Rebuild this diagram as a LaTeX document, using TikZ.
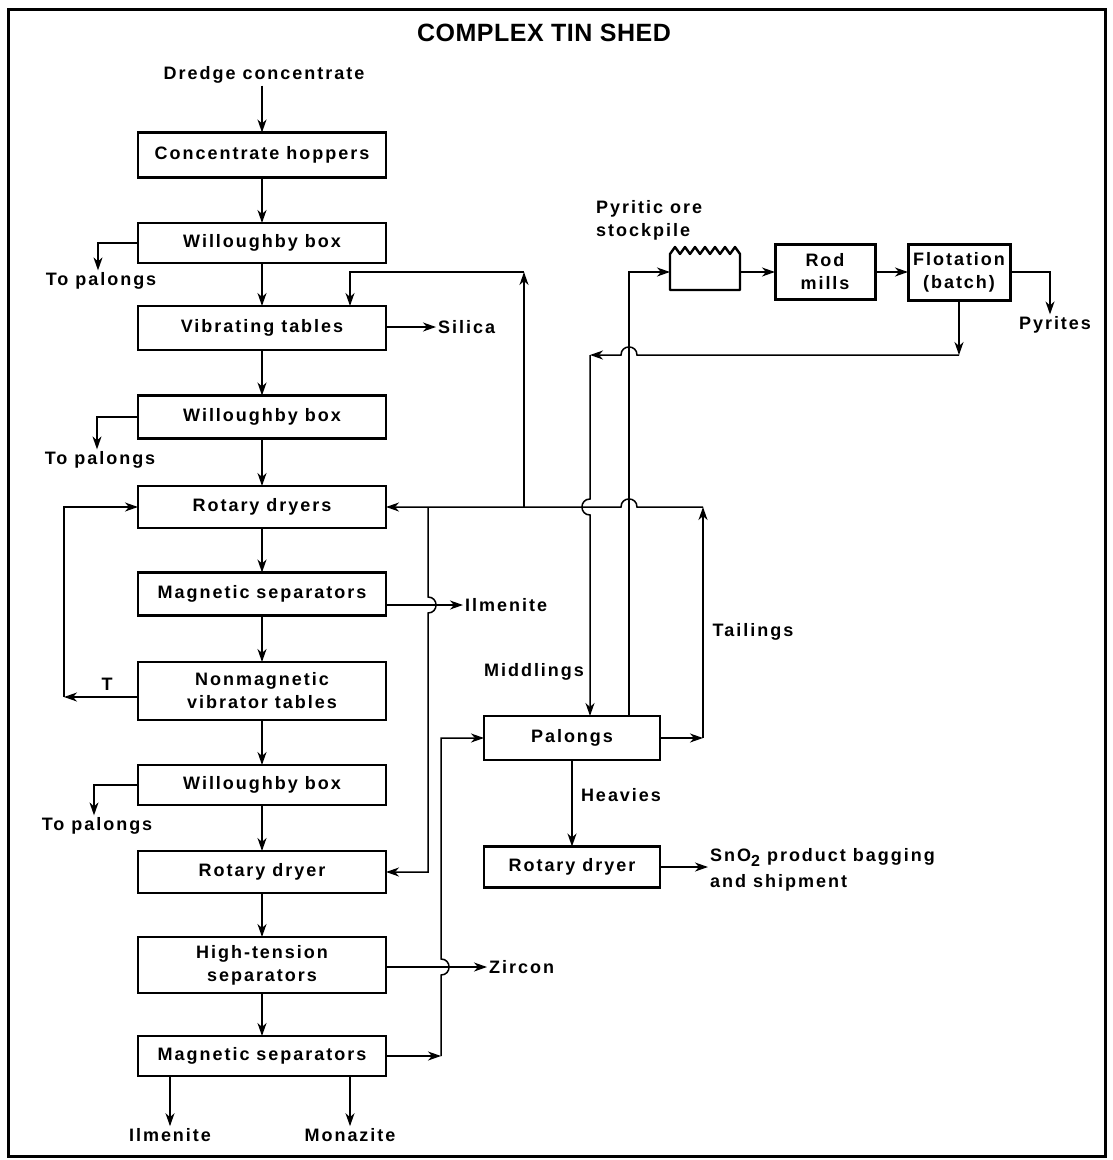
\documentclass[tikz,border=0pt]{standalone}
\usepackage{fontspec}
\setmainfont{Liberation Sans}[LetterSpace=11]
\usetikzlibrary{arrows.meta}

\begin{document}
\begin{tikzpicture}[x=1pt,y=-1pt,
  font=\fontsize{18}{23}\selectfont\bfseries,
  unit/.style={draw,line width=2.6pt,minimum width=248pt,minimum height=42pt,inner sep=0pt,outer sep=0pt,align=center},
  flow/.style={line width=1.5pt,-{Stealth[length=13pt,width=9pt,inset=4pt]}},
  lbl/.style={inner sep=2pt,align=left}]
\useasboundingbox (0,0) rectangle (1112,1160);
\draw[line width=3pt] (8,9) rectangle (1105,1156);
\node (title) at (544,33) {\fontsize{25}{28}\selectfont\addfontfeature{LetterSpace=2}COMPLEX TIN SHED};

\node[lbl] (dredge) at (264,75) {Dredge concentrate};
\node[unit,minimum height=45pt] (conc) at (262,155) {Concentrate hoppers};
\node[unit,minimum height=40pt] (wb1) at (262,243) {Willoughby box};
\node[unit,minimum height=44pt] (vib) at (262,328) {Vibrating tables};
\node[unit,minimum height=43pt] (wb2) at (262,417) {Willoughby box};
\node[unit] (dry1) at (262,507) {Rotary dryers};
\node[unit,minimum height=43pt] (mag1) at (262,594) {Magnetic separators};
\node[unit,minimum height=58pt] (nonmag) at (262,691) {Nonmagnetic\\vibrator tables};
\node[unit,minimum height=40pt] (wb3) at (262,785) {Willoughby box};
\node[unit] (dry2) at (262,872) {Rotary dryer};
\node[unit,minimum height=56pt] (hts) at (262,965) {High-tension\\separators};
\node[unit,minimum height=40pt] (mag2) at (262,1056) {Magnetic separators};

\node[unit,minimum width=176pt,minimum height=44pt] (pal) at (572,738) {Palongs};
\node[unit,minimum width=176pt,minimum height=41pt] (dry3) at (572,867) {Rotary dryer};
\node[minimum width=70pt,minimum height=36pt,inner sep=0pt,outer sep=0pt] (pile) at (705,272) {};
\node[unit,line width=3pt,minimum width=100pt,minimum height=55pt] (rod) at (825,272) {Rod\\mills};
\node[unit,line width=3pt,minimum width=102pt,minimum height=56pt] (flot) at (959,272) {Flotation\\(batch)};
\draw[line width=2.4pt,line join=round] (pile.south west) -- (pile.north west)
  foreach \i in {1,...,7} { -- ++(5,-7) -- ++(5,7) } -- (pile.south east) -- cycle;

\node[lbl] (tp1) at (101,281) {To palongs};
\node[lbl] (tp2) at (100,460) {To palongs};
\node[lbl] (tp3) at (97,826) {To palongs};
\node[lbl,anchor=west] (sil) at (436,327) {Silica};
\node[lbl,anchor=west] (ilm1) at (463,605) {Ilmenite};
\node[lbl] (tl) at (107,684) {T};
\node[lbl,anchor=west] (zir) at (487,967) {Zircon};
\node[lbl] (ilm2) at (170,1135) {Ilmenite};
\node[lbl] (mona) at (350,1135) {Monazite};
\node[lbl] (middl) at (534,672) {Middlings};
\node[lbl] (tail) at (753,632) {Tailings};
\node[lbl] (heavy) at (621,795) {Heavies};
\node[lbl] (pyr) at (1055,325) {Pyrites};
\node[lbl,anchor=west] (pilelbl) at (594,220) {Pyritic ore\\stockpile};
\node[lbl,anchor=west] (sno) at (708,870) {SnO\raisebox{-5pt}{\fontsize{16}{16}\selectfont 2} product bagging\\[3pt]and shipment};

\coordinate (tc) at (64,697);
\coordinate (j1) at (428,507);
\coordinate (j2) at (524,507);
\coordinate (j3) at (524,272);
\coordinate (j5) at (441,1056);
\coordinate (t1) at (703,738);
\coordinate (t2) at (703,507);
\coordinate (m1) at (959,355);
\coordinate (m2) at (590,355);
\coordinate (p1) at (629,272);

\draw[flow] (dredge.south -| conc.north) -- (conc.north);
\foreach \a/\b in {conc/wb1,wb1/vib,vib/wb2,wb2/dry1,dry1/mag1,mag1/nonmag,nonmag/wb3,wb3/dry2,dry2/hts,hts/mag2}
  \draw[flow] (\a) -- (\b);

\draw[flow] (wb1.west) -| ([xshift=-3pt]tp1.north);
\draw[flow] (wb2.west) -| ([xshift=-3pt]tp2.north);
\draw[flow] (wb3.west) -| ([xshift=-3pt]tp3.north);
\draw[flow] (vib.east |- sil.west) -- (sil.west);
\draw[flow] (mag1.east |- ilm1.west) -- (ilm1.west);
\draw[flow] (nonmag.west |- tc) -- (tc);
\draw[flow] (tc) |- (dry1.west);
\draw[flow] (hts.east |- zir.west) -- (zir.west);
\draw[flow] (mag2.south -| ilm2) -- (ilm2.north);
\draw[flow] (mag2.south -| mona) -- (mona.north);

\draw[flow] (pal.east) -- (t1);
\draw[flow] (t1) -- (t2);
\draw[flow] (t2) -- (637,507) .. controls (637,496.3) and (621,496.3) .. (621,507) -- (dry1.east);
\draw[flow] (j2) -- (j3);
\draw[flow] (j3) -| ([xshift=88pt]vib.north);
\draw[flow] (j1) -- (428,597) .. controls (438.7,597) and (438.7,613) .. (428,613) |- (dry2.east);
\draw[flow] (mag2.east) -- (j5);
\draw[flow] (j5) -- (441,975) .. controls (451.7,975) and (451.7,959) .. (441,959) |- (pal.west);

\draw[flow] (flot.south) -- (m1);
\draw[flow] (m1) -- (637,355) .. controls (637,344.3) and (621,344.3) .. (621,355) -- (m2);
\draw[flow] (m2) -- (590,499) .. controls (579.3,499) and (579.3,515) .. (590,515) -- (m2 |- pal.north);
\draw[flow] (pal.north -| p1) -- (p1) -- (pile.west);
\draw[flow] (pile) -- (rod);
\draw[flow] (rod) -- (flot);
\draw[flow] (flot.east) -| ([xshift=-5pt]pyr.north);
\draw[flow] (pal.south) -- (dry3.north);
\draw[flow] (dry3.east) -- (dry3.east -| sno.west);
\end{tikzpicture}
\end{document}
